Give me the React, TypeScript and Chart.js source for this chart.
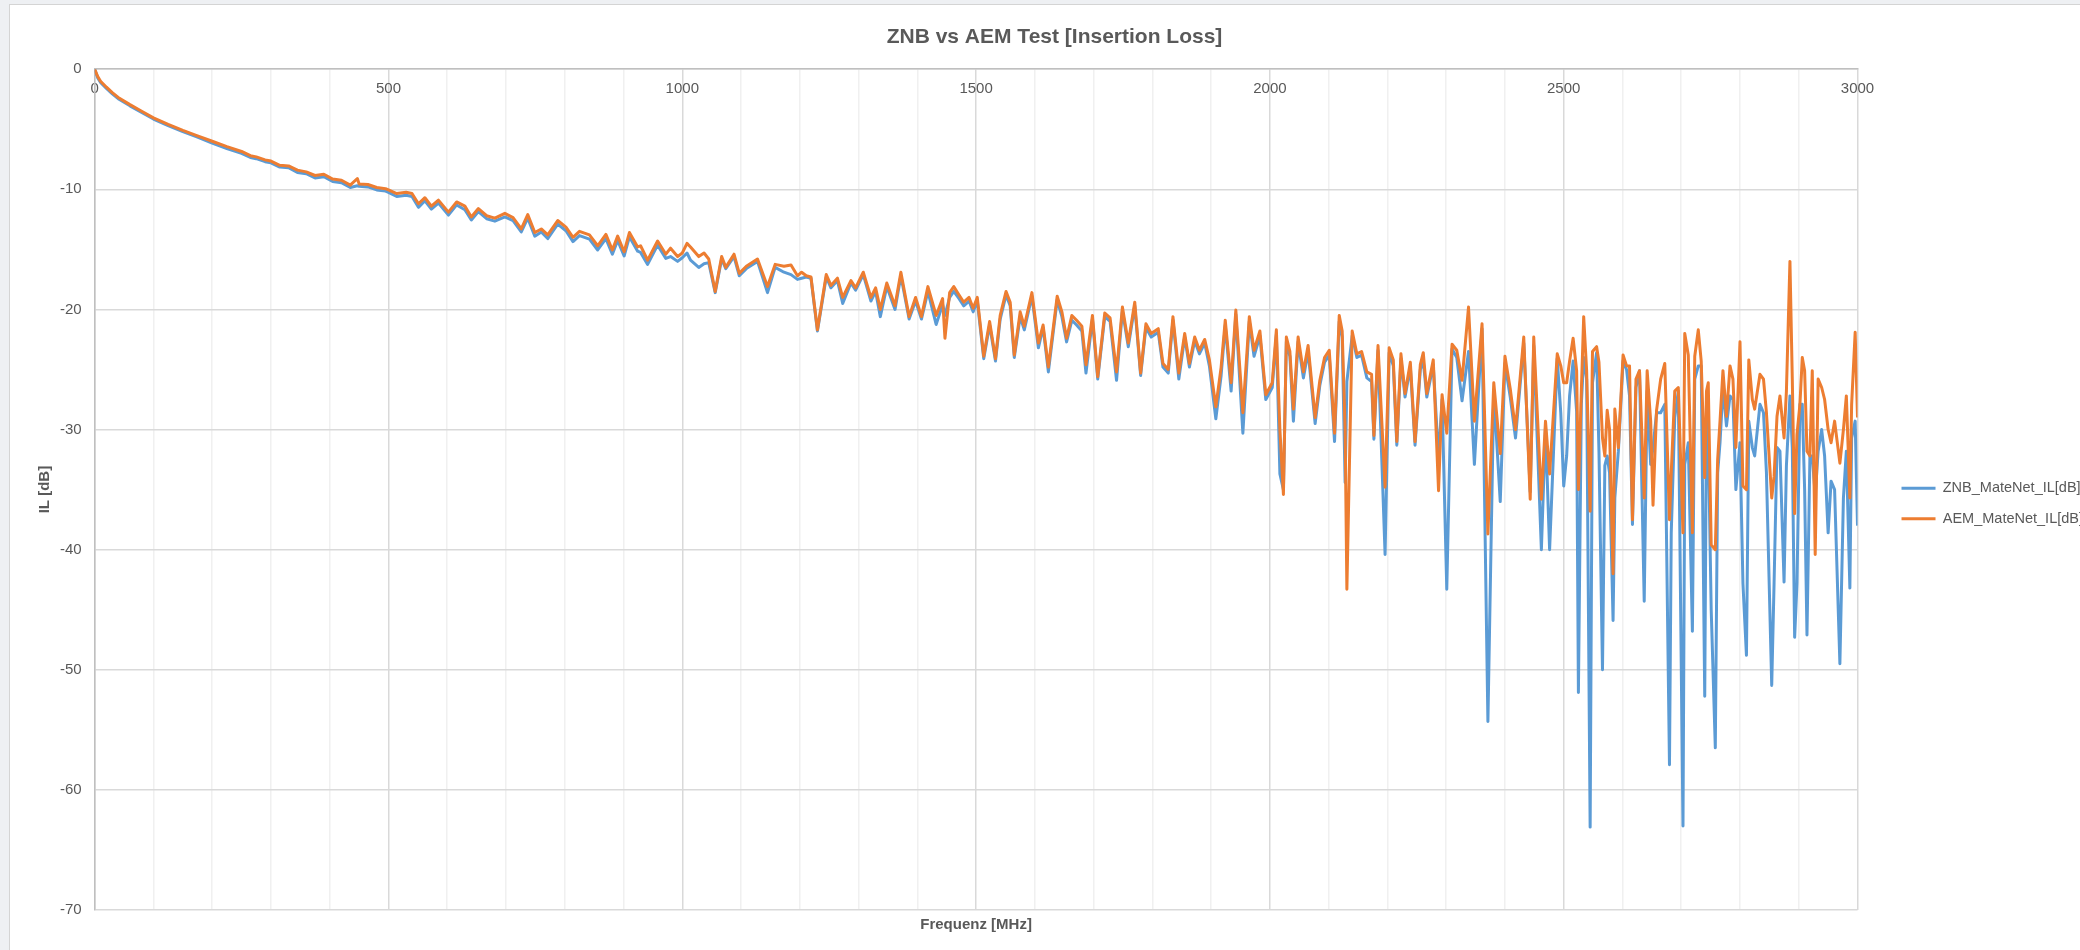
import { useEffect, useRef } from 'react';
import { Chart, registerables } from 'chart.js';

Chart.register(...registerables);

const FONT = "'Liberation Sans', Arial, sans-serif";

// Frequency points (MHz)
const FREQ_MHZ = [
  0, 5, 10, 20, 30, 40, 60, 80, 100, 125, 150, 175, 200, 225, 250, 265, 275, 290, 300, 315,
  330, 345, 360, 375, 390, 405, 420, 435, 447, 450, 465, 480, 495, 500, 514, 530, 540, 551, 562, 573,
  585, 602, 616, 630, 641, 653, 667, 681, 698, 712, 726, 737, 749, 760, 771, 788, 802, 814, 825, 842,
  856, 870, 881, 890, 901, 910, 924, 929, 941, 958, 972, 980, 992, 1000, 1008, 1014, 1028, 1037, 1045, 1056,
  1067, 1074, 1088, 1097, 1109, 1128, 1145, 1158, 1173, 1185, 1196, 1203, 1211, 1219, 1230, 1245, 1253, 1264, 1273, 1287,
  1295, 1308, 1321, 1329, 1337, 1348, 1362, 1372, 1386, 1397, 1407, 1418, 1432, 1443, 1447, 1455, 1462, 1471, 1479, 1488,
  1495, 1502, 1513, 1523, 1533, 1541, 1551, 1558, 1565, 1575, 1582, 1595, 1606, 1614, 1623, 1638, 1646, 1654, 1663, 1671,
  1680, 1687, 1698, 1707, 1719, 1728, 1739, 1749, 1759, 1770, 1780, 1789, 1798, 1810, 1818, 1827, 1835, 1845, 1855, 1863,
  1872, 1880, 1889, 1897, 1908, 1917, 1924, 1934, 1942, 1954, 1965, 1973, 1983, 1993, 2004, 2011, 2017, 2023, 2028, 2034,
  2040, 2048, 2057, 2065, 2077, 2085, 2093, 2101, 2110, 2118, 2123, 2128, 2131, 2140, 2148, 2156, 2165, 2173, 2177, 2184,
  2196, 2203, 2210, 2216, 2223, 2230, 2239, 2247, 2256, 2261, 2267, 2278, 2287, 2293, 2301, 2310, 2318, 2327, 2338, 2348,
  2361, 2371, 2381, 2392, 2400, 2409, 2418, 2432, 2443, 2449, 2462, 2469, 2476, 2489, 2495, 2500, 2505, 2510, 2516, 2522,
  2525, 2530, 2534, 2539, 2545, 2549, 2556, 2560, 2566, 2570, 2574, 2578, 2584, 2587, 2593, 2601, 2607, 2612, 2617, 2623,
  2629, 2637, 2642, 2648, 2652, 2658, 2665, 2672, 2680, 2683, 2689, 2695, 2703, 2706, 2712, 2719, 2723, 2729, 2734, 2740,
  2743, 2746, 2751, 2758, 2762, 2766, 2771, 2777, 2783, 2788, 2793, 2800, 2805, 2811, 2815, 2821, 2825, 2834, 2840, 2845,
  2854, 2858, 2863, 2868, 2875, 2879, 2885, 2889, 2893, 2897, 2902, 2906, 2910, 2914, 2919, 2923, 2928, 2933, 2939, 2944,
  2950, 2955, 2961, 2970, 2976, 2981, 2987, 2990, 2996, 3000,
];

// ZNB_MateNet_IL[dB]
const ZNB_IL = [
  0, -0.7, -1.1, -1.6, -2.05, -2.45, -3.05, -3.6, -4.15, -4.7, -5.2, -5.65, -6.15, -6.6, -7.0, -7.35, -7.45, -7.7, -7.8, -8.15,
  -8.2, -8.6, -8.7, -9.05, -8.95, -9.35, -9.45, -9.85, -9.7, -9.75, -9.8, -10.05, -10.15, -10.25, -10.6, -10.5, -10.6, -11.5, -10.95, -11.65,
  -11.15, -12.15, -11.3, -11.7, -12.55, -11.85, -12.45, -12.65, -12.3, -12.6, -13.55, -12.4, -13.9, -13.55, -14.1, -12.9, -13.45, -14.35, -13.85, -14.15,
  -15.05, -14.1, -15.4, -14.25, -15.55, -13.95, -15.15, -15.25, -16.25, -14.65, -15.75, -15.6, -16.0, -15.7, -15.3, -15.9, -16.5, -16.2, -16.1, -18.6,
  -15.8, -16.6, -15.6, -17.2, -16.6, -16.0, -18.6, -16.5, -16.9, -17.1, -17.5, -17.4, -17.3, -17.4, -21.8, -17.3, -18.2, -17.6, -19.5, -17.8,
  -18.4, -17.1, -19.3, -18.5, -20.6, -18.1, -20.0, -17.2, -20.8, -19.3, -20.8, -18.5, -21.25, -19.6, -20.5, -19.0, -18.5, -19.1, -19.7, -19.3,
  -20.2, -19.3, -24.1, -21.3, -24.3, -20.8, -18.8, -19.7, -24.0, -20.6, -21.7, -18.9, -23.2, -21.5, -25.2, -19.2, -20.6, -22.7, -20.9, -21.3,
  -21.8, -25.3, -20.8, -25.8, -20.6, -21.0, -25.9, -20.1, -23.1, -19.7, -25.5, -21.5, -22.3, -21.9, -24.8, -25.3, -20.9, -25.8, -22.3, -24.8,
  -22.6, -23.7, -22.8, -24.7, -29.1, -25.5, -21.3, -26.8, -20.4, -30.3, -21.0, -23.9, -22.2, -27.5, -26.5, -22.1, -33.7, -35.0, -22.7, -23.9,
  -29.3, -22.7, -25.7, -23.5, -29.5, -26.3, -24.4, -23.8, -31.0, -21.0, -22.3, -34.4, -26.0, -22.2, -24.0, -23.8, -25.7, -26.0, -30.8, -23.4,
  -40.4, -23.6, -24.7, -31.3, -24.1, -27.3, -24.8, -31.3, -25.0, -24.3, -27.3, -24.6, -32.4, -27.5, -43.3, -23.3, -24.0, -27.6, -23.5, -32.9,
  -21.6, -54.3, -26.8, -36.0, -24.5, -27.3, -30.7, -22.8, -35.2, -23.0, -40.0, -29.8, -40.0, -24.1, -28.6, -34.7, -32.2, -27.2, -24.3, -28.5,
  -51.9, -27.9, -24.0, -25.8, -63.1, -26.1, -23.6, -31.8, -50.0, -33.0, -32.2, -33.6, -45.9, -35.7, -31.8, -24.3, -25.0, -27.2, -37.9, -26.5,
  -25.1, -44.3, -26.8, -32.9, -31.5, -28.6, -28.6, -27.9, -57.9, -38.6, -29.0, -26.8, -63.0, -32.9, -31.1, -46.8, -25.8, -24.7, -24.7, -52.2,
  -28.6, -30.7, -45.0, -56.5, -33.6, -31.1, -26.5, -29.7, -27.2, -27.5, -35.0, -31.1, -42.8, -48.8, -29.3, -31.5, -32.2, -27.9, -28.6, -33.6,
  -51.3, -42.8, -31.5, -31.8, -42.7, -33.0, -27.2, -31.5, -47.3, -42.8, -27.9, -27.9, -35.0, -47.1, -32.2, -32.2, -35.5, -31.8, -30.0, -32.2,
  -38.6, -34.3, -35.0, -49.5, -35.7, -31.8, -43.2, -30.7, -29.3, -38.0,
];

// AEM_MateNet_IL[dB]
const AEM_IL = [
  0, -0.6, -1.0, -1.5, -1.95, -2.35, -2.95, -3.5, -4.05, -4.6, -5.1, -5.55, -6.0, -6.45, -6.85, -7.2, -7.3, -7.55, -7.65, -8.0,
  -8.05, -8.4, -8.55, -8.85, -8.75, -9.15, -9.25, -9.65, -9.1, -9.55, -9.6, -9.85, -9.95, -10.05, -10.35, -10.25, -10.35, -11.2, -10.7, -11.4,
  -10.9, -11.9, -11.05, -11.4, -12.3, -11.6, -12.2, -12.4, -12.0, -12.35, -13.3, -12.1, -13.6, -13.3, -13.8, -12.6, -13.15, -14.0, -13.5, -13.8,
  -14.7, -13.75, -15.05, -13.9, -15.2, -13.6, -14.8, -14.7, -15.9, -14.3, -15.4, -14.9, -15.6, -15.3, -14.5, -14.8, -15.6, -15.3, -15.8, -18.5,
  -15.6, -16.5, -15.4, -17.0, -16.4, -15.8, -18.1, -16.25, -16.4, -16.3, -17.2, -16.9, -17.2, -17.3, -21.7, -17.1, -18.0, -17.4, -19.0, -17.6,
  -18.2, -16.9, -19.0, -18.2, -20.0, -17.8, -19.7, -16.9, -20.6, -19.0, -20.6, -18.1, -20.5, -19.1, -22.4, -18.6, -18.1, -18.8, -19.4, -19.0,
  -19.9, -19.0, -23.9, -21.0, -24.1, -20.5, -18.5, -19.4, -23.8, -20.2, -21.4, -18.6, -22.8, -21.3, -24.8, -18.9, -20.2, -22.4, -20.5, -20.9,
  -21.4, -24.6, -20.5, -25.6, -20.3, -20.7, -25.2, -19.8, -22.8, -19.4, -25.3, -21.2, -22.0, -21.6, -24.5, -25.0, -20.6, -25.3, -22.0, -24.5,
  -22.3, -23.4, -22.5, -24.2, -28.1, -24.8, -20.9, -26.1, -20.05, -28.6, -20.6, -23.4, -21.8, -27.1, -26.1, -21.7, -30.0, -35.4, -22.3, -23.5,
  -28.3, -22.3, -25.2, -23.0, -29.0, -25.9, -24.0, -23.4, -30.3, -20.5, -21.8, -30.0, -43.3, -21.8, -23.7, -23.5, -25.2, -25.4, -30.5, -23.0,
  -34.8, -23.2, -24.2, -31.0, -23.7, -27.0, -24.4, -31.0, -24.6, -23.6, -27.0, -24.2, -35.1, -27.1, -30.3, -22.9, -23.4, -25.9, -19.8, -29.3,
  -21.2, -38.7, -26.1, -32.0, -23.9, -26.6, -30.0, -22.3, -35.8, -22.3, -35.8, -29.3, -33.7, -23.7, -24.7, -26.1, -26.1, -24.3, -22.4, -25.1,
  -35.0, -26.8, -20.6, -25.1, -36.8, -23.5, -23.1, -24.4, -30.7, -32.2, -28.4, -30.0, -42.0, -28.3, -31.5, -23.8, -24.7, -24.7, -37.5, -25.8,
  -25.1, -35.7, -25.1, -29.3, -36.3, -28.4, -25.8, -24.5, -37.5, -33.6, -26.8, -26.5, -38.6, -22.0, -23.8, -38.6, -23.9, -21.7, -24.3, -34.0,
  -26.8, -26.1, -39.6, -40.0, -32.5, -29.3, -25.1, -28.9, -24.7, -25.8, -31.5, -22.7, -34.7, -35.0, -24.2, -27.5, -28.3, -25.4, -25.8, -28.6,
  -35.7, -33.9, -28.9, -27.2, -30.7, -26.8, -16.0, -25.8, -37.0, -30.4, -27.9, -24.0, -25.1, -31.8, -32.2, -25.1, -40.4, -25.8, -26.5, -27.5,
  -30.0, -31.1, -29.3, -32.8, -30.0, -27.2, -35.7, -27.9, -21.9, -29.0,
];

const X_TICK_LABELS = ['0', '500', '1000', '1500', '2000', '2500', '3000'];
const SERIES_NAMES = ['ZNB_MateNet_IL[dB]', 'AEM_MateNet_IL[dB]'];

const CANVAS_W = 2083;
const CANVAS_H = 945;

export default function App() {
  const ref = useRef<HTMLCanvasElement | null>(null);

  useEffect(() => {
    const canvas = ref.current;
    if (!canvas) return;
    const tickFont = { family: FONT, size: 15 };
    const legendFont = { family: FONT, size: 14.5 };
    const titleFont = { family: FONT, size: 15, weight: 'bold' as const };
    const chart = new Chart(canvas, {
      type: 'line',
      data: {
        datasets: [
          {
            label: SERIES_NAMES[0],
            data: FREQ_MHZ.map((x, i) => ({ x, y: ZNB_IL[i] })),
            borderColor: '#5B9BD5',
            backgroundColor: '#5B9BD5',
            borderWidth: 3,
            pointRadius: 0,
            tension: 0,
            borderJoinStyle: 'round',
            order: 2,
          },
          {
            label: SERIES_NAMES[1],
            data: FREQ_MHZ.map((x, i) => ({ x, y: AEM_IL[i] })),
            borderColor: '#ED7D31',
            backgroundColor: '#ED7D31',
            borderWidth: 3,
            pointRadius: 0,
            tension: 0,
            borderJoinStyle: 'round',
            order: 1,
          },
        ],
      },
      options: {
        responsive: false,
        animation: false,
        events: [],
        layout: { padding: { left: 6, right: 0, top: 0, bottom: 12 } },
        plugins: {
          title: {
            display: true,
            text: 'ZNB vs AEM Test [Insertion Loss]',
            color: '#595959',
            font: { family: FONT, size: 21, weight: 'bold' },
            padding: { top: 20, bottom: 19 },
          },
          legend: {
            position: 'right',
            title: {
              display: true,
              text: ' ',
              font: { family: FONT, size: 10 },
              padding: { top: 26, bottom: 26 },
            },
            labels: {
              usePointStyle: true,
              pointStyle: 'line',
              pointStyleWidth: 34,
              padding: 16,
              color: '#595959',
              font: legendFont,
              sort: (a: any, b: any) => a.datasetIndex - b.datasetIndex,
            },
          },
          tooltip: { enabled: false },
        },
        scales: {
          x: {
            type: 'linear',
            position: { y: 0 } as any,
            min: 0,
            max: 3000,
            ticks: {
              stepSize: 100,
              autoSkip: false,
              maxRotation: 0,
              padding: 11,
              color: '#595959',
              font: tickFont,
              callback: (v: any) => {
                const s = String(v);
                return X_TICK_LABELS.includes(s) ? s : '';
              },
            },
            grid: {
              color: (c: any) => (c.tick && c.tick.value % 500 === 0 ? '#d9d9d9' : '#f0f0f0'),
              lineWidth: 1.5,
              drawTicks: false,
            },
            border: { color: '#bfbfbf', width: 1.5 },
          },
          xTitle: {
            type: 'linear',
            position: 'bottom',
            display: true,
            min: 0,
            max: 3000,
            grid: { display: false, drawTicks: false },
            ticks: { display: false },
            border: { display: false },
            title: {
              display: true,
              text: 'Frequenz [MHz]',
              color: '#595959',
              font: titleFont,
              padding: { top: 6, bottom: 4 },
            },
          },
          y: {
            type: 'linear',
            position: 'left',
            min: -70,
            max: 0,
            ticks: { stepSize: 10, padding: 13, color: '#595959', font: tickFont },
            grid: { color: '#d9d9d9', lineWidth: 1.5, drawTicks: false },
            border: { color: '#bfbfbf', width: 1.5 },
            title: {
              display: true,
              text: 'IL [dB]',
              color: '#595959',
              font: titleFont,
              padding: { top: 20, bottom: -7 },
            },
          },
          yGap: {
            type: 'linear',
            position: 'right',
            display: true,
            grid: { display: false, drawTicks: false },
            ticks: { display: false },
            border: { display: false },
            afterFit: (s: any) => {
              s.width = 28;
            },
          },
        },
      } as any,
    });
    return () => chart.destroy();
  }, []);

  return (
    <div
      style={{
        position: 'fixed',
        left: 0,
        top: 0,
        width: 2080,
        height: 950,
        overflow: 'hidden',
        background: '#eef0f3',
      }}
    >
      <div
        style={{
          position: 'absolute',
          left: 9,
          top: 4,
          width: CANVAS_W,
          height: CANVAS_H + 2,
          background: '#ffffff',
          borderLeft: '1px solid #d4d4d4',
          borderTop: '1px solid #d4d4d4',
        }}
      >
        <canvas ref={ref} width={CANVAS_W} height={CANVAS_H} style={{ display: 'block' }} />
      </div>
    </div>
  );
}
